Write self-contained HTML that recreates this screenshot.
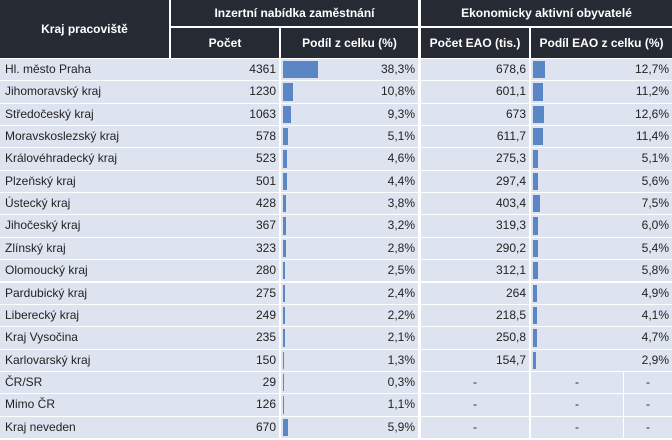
<!DOCTYPE html>
<html><head><meta charset="utf-8"><style>
body{margin:0;width:672px;height:440px;overflow:hidden;background:#fff;font-family:"Liberation Sans",Arial,sans-serif;font-size:12px;color:#222}
#t{position:relative;width:672px;height:440px}
.h{position:absolute;background:#262a33;color:#fff;font-weight:bold;display:flex;align-items:center;justify-content:center;font-size:12px}
.c{position:absolute;background:#dde3ef;line-height:21px;white-space:nowrap}
.r{text-align:right;padding-right:3px;box-sizing:border-box}
.bar{position:absolute;background:#5b86c5}
</style></head><body>
<div id="t">
<div class="h" style="left:0;top:0;width:169px;height:58px">Kraj pracoviště</div>
<div class="h" style="left:171px;top:0;width:247px;height:26px">Inzertní nabídka zaměstnání</div>
<div class="h" style="left:421px;top:0;width:251px;height:26px">Ekonomicky aktivní obyvatelé</div>
<div class="h" style="left:171px;top:28px;width:108px;height:30px">Počet</div>
<div class="h" style="left:281px;top:28px;width:137px;height:30px">Podíl z celku (%)</div>
<div class="h" style="left:421px;top:28px;width:108px;height:30px">Počet EAO (tis.)</div>
<div class="h" style="left:531px;top:28px;width:141px;height:30px">Podíl EAO z celku (%)</div>
</div>
<script>
const regions=["Hl. město Praha","Jihomoravský kraj","Středočeský kraj","Moravskoslezský kraj","Královéhradecký kraj","Plzeňský kraj","Ústecký kraj","Jihočeský kraj","Zlínský kraj","Olomoucký kraj","Pardubický kraj","Liberecký kraj","Kraj Vysočina","Karlovarský kraj","ČR/SR","Mimo ČR","Kraj neveden"];
const counts=[4361,1230,1063,578,523,501,428,367,323,280,275,249,235,150,29,126,670];
const shares=[38.3,10.8,9.3,5.1,4.6,4.4,3.8,3.2,2.8,2.5,2.4,2.2,2.1,1.3,0.3,1.1,5.9];
const eaoCounts=["678,6","601,1","673","611,7","275,3","297,4","403,4","319,3","290,2","312,1","264","218,5","250,8","154,7",null,null,null];
const eaoShares=[12.7,11.2,12.6,11.4,5.1,5.6,7.5,6.0,5.4,5.8,4.9,4.1,4.7,2.9,null,null,null];
const t=document.getElementById('t');
const y0=59,rh=22.35,px=0.91;
const fmt=v=>v.toFixed(1).replace('.',',')+'%';
function cell(x,w,y,txt,cls,name){const d=document.createElement('div');d.className='c '+cls;d.style.left=x+'px';d.style.width=w+'px';d.style.top=y+'px';d.style.height=(rh-1)+'px';d.textContent=txt;


t.appendChild(d);return d;}
function bar(x,y,v,name){const b=document.createElement('div');b.className='bar';b.style.left=x+'px';b.style.top=(y+2)+'px';b.style.height=(rh-5)+'px';b.style.width=Math.max(1,v*px)+'px';


t.appendChild(b);}
regions.forEach((r,i)=>{const y=y0+i*rh;
cell(0,169,y,r,'','region-name').style.paddingLeft='5px';
cell(171,108,y,counts[i],'r','offer-count');
cell(281,137,y,fmt(shares[i]),'r','offer-share');
bar(283,y,shares[i],'offer-share-bar');
if(eaoCounts[i]!==null){
cell(421,108,y,eaoCounts[i],'r','eao-count');
cell(531,141,y,fmt(eaoShares[i]),'r','eao-share');
bar(533,y,eaoShares[i],'eao-share-bar');
}else{
const a=cell(421,108,y,'-','','eao-count');a.style.textAlign='center';
const b=cell(531,92,y,'-','','eao-share');b.style.textAlign='center';
const c=cell(624,48,y,'-','','eao-share-extra');c.style.textAlign='center';
}});
</script>
</body></html>
